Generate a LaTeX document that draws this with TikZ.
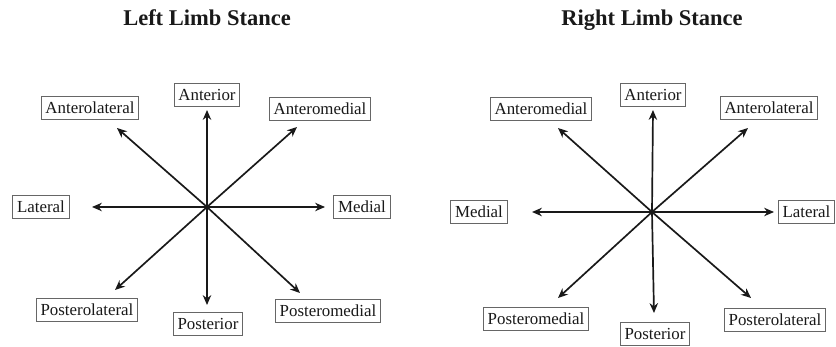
\documentclass[tikz,border=0pt]{standalone}
\usepackage{fontspec}
\setmainfont{Liberation Serif}
\usetikzlibrary{arrows.meta,positioning}

\tikzset{
  dirbox/.style={draw=black!60, line width=0.7pt, fill=white, inner xsep=3pt,
    minimum height=0.57cm, font=\fontsize{12}{14}\selectfont, text=black!90},
  dirarrow/.style={-{Stealth[length=7pt,width=6pt]}, line width=1.2pt, draw=black!90},
  paneltitle/.style={anchor=base, font=\fontsize{16}{18}\selectfont\bfseries, text=black!90}
}

\begin{document}
\begin{tikzpicture}[x=0.025cm, y=-0.025cm]
  \useasboundingbox (0,0) rectangle (836,347);

  % Left limb
  \begin{scope}[name prefix=L-]
    \node[paneltitle] (title) at (207,26) {Left Limb Stance};
    \coordinate (c) at (207,207);

    \node[dirbox] (ant)   at (207,95)  {Anterior};
    \node[dirbox] (antl)  at (90,108)  {Anterolateral};
    \node[dirbox] (antm)  at (320,109) {Anteromedial};
    \node[dirbox] (lat)   at (41,207)  {Lateral};
    \node[dirbox] (med)   at (362,207) {Medial};
    \node[dirbox] (postl) at (87,310)  {Posterolateral};
    \node[dirbox] (post)  at (208,324) {Posterior};
    \node[dirbox] (postm) at (328,311) {Posteromedial};

    \coordinate (t-ant)   at (207,110);
    \coordinate (t-antl)  at (117,128);
    \coordinate (t-antm)  at (297,127);
    \coordinate (t-lat)   at (92,207);
    \coordinate (t-med)   at (325,207);
    \coordinate (t-postl) at (115,290);
    \coordinate (t-post)  at (207,305);
    \coordinate (t-postm) at (300,293);

    \draw[dirarrow] (c) -- (t-ant);
    \draw[dirarrow] (c) -- (t-antl);
    \draw[dirarrow] (c) -- (t-antm);
    \draw[dirarrow] (c) -- (t-lat);
    \draw[dirarrow] (c) -- (t-med);
    \draw[dirarrow] (c) -- (t-postl);
    \draw[dirarrow] (c) -- (t-post);
    \draw[dirarrow] (c) -- (t-postm);
  \end{scope}

  % Right limb
  \begin{scope}[name prefix=R-]
    \node[paneltitle] (title) at (652,26) {Right Limb Stance};
    \coordinate (c) at (652,212);

    \node[dirbox] (ant)   at (653,95)  {Anterior};
    \node[dirbox] (antm)  at (541,109) {Anteromedial};
    \node[dirbox] (antl)  at (769,108) {Anterolateral};
    \node[dirbox] (med)   at (479,212) {Medial};
    \node[dirbox, anchor=east] (lat) at (835,212) {Lateral};
    \node[dirbox] (postm) at (536,319) {Posteromedial};
    \node[dirbox] (post)  at (655,334) {Posterior};
    \node[dirbox] (postl) at (775,320) {Posterolateral};

    \coordinate (t-ant)   at (653,110);
    \coordinate (t-antm)  at (558,128);
    \coordinate (t-antl)  at (748,128);
    \coordinate (t-med)   at (532,212);
    \coordinate (t-lat)   at (774,212);
    \coordinate (t-postm) at (558,298);
    \coordinate (t-post)  at (654,313);
    \coordinate (t-postl) at (751,298);

    \draw[dirarrow] (c) -- (t-ant);
    \draw[dirarrow] (c) -- (t-antm);
    \draw[dirarrow] (c) -- (t-antl);
    \draw[dirarrow] (c) -- (t-med);
    \draw[dirarrow] (c) -- (t-lat);
    \draw[dirarrow] (c) -- (t-postm);
    \draw[dirarrow] (c) -- (t-post);
    \draw[dirarrow] (c) -- (t-postl);
  \end{scope}
\end{tikzpicture}
\end{document}
